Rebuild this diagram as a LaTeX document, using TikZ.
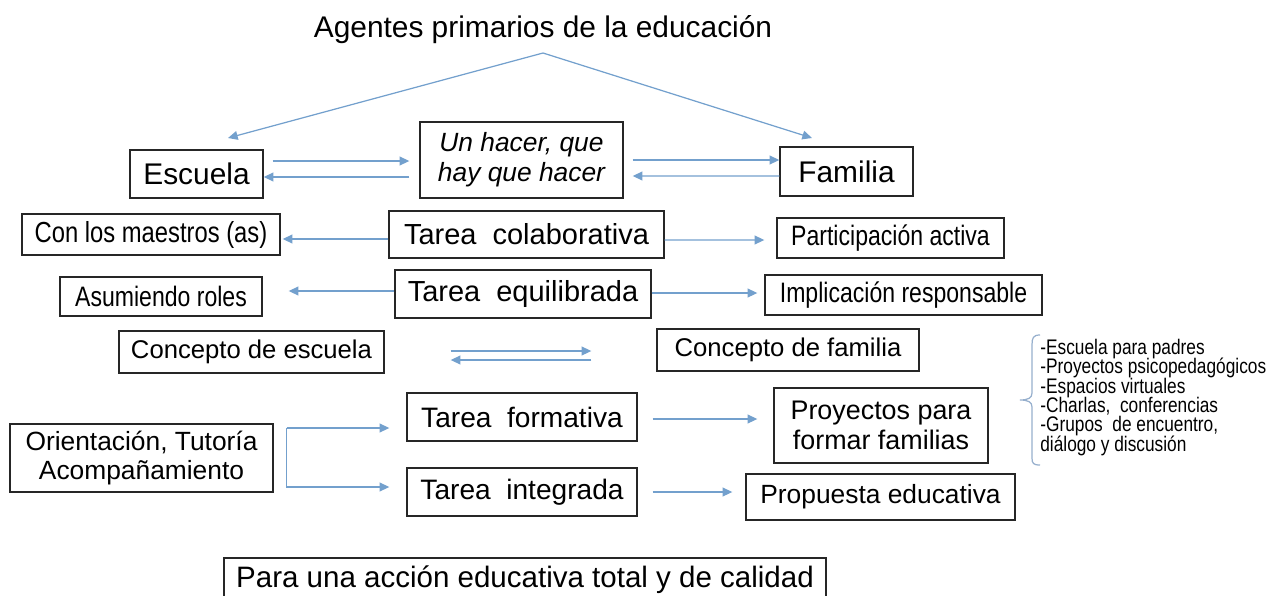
\documentclass[tikz,border=0pt]{standalone}
\usepackage{fontspec}
\setmainfont{Liberation Sans}
\newfontfamily\estrecha{Liberation Sans}[FakeStretch=0.82]
\usetikzlibrary{arrows.meta}
\definecolor{azulflecha}{RGB}{115,160,205}
\definecolor{azulllave}{RGB}{150,175,205}
\newcommand{\tamletra}[2]{\fontsize{#1}{#2}\selectfont}
\tikzset{
  caja/.style 2 args={draw=black!85, line width=0.8pt, minimum width=#1cm,
    minimum height=#2cm, inner sep=0pt, align=center},
  flecha/.style={draw=azulflecha, line width=0.7pt, -{Triangle[length=5.5pt,width=5pt]}},
}
\begin{document}
\begin{tikzpicture}[x=0.02cm,y=-0.02cm]
    \useasboundingbox (0,0) rectangle (1270,595);
    \clip (0,0) rectangle (1270,595);

    \node[font=\tamletra{17}{20}] (titulo) at (543,30) {Agentes primarios de la educación};
    \coordinate (cima) at (543,53);
    \coordinate (llegaE) at (228,138);
    \coordinate (llegaF) at (812,138);

    \node[caja={2.66}{0.96}, font=\tamletra{17}{20}] (escuela) at (196.5,174) {Escuela};
    \node[caja={4.06}{1.52}, font=\itshape\tamletra{15}{17}] (hacer) at (521.5,160) {Un hacer, que\\hay que hacer};
    \node[caja={2.66}{0.98}, font=\tamletra{17}{20}] (familia) at (846.5,171.5) {Familia};

    \node[caja={5.16}{0.82}, font=\estrecha\tamletra{16.5}{20}] (maestros) at (151,234.5) {Con los maestros (as)};
    \node[caja={5.5}{0.94}, font=\tamletra{16.5}{20}] (colab) at (526.5,234.5) {Tarea\ \ colaborativa};
    \node[caja={4.54}{0.8}, font=\estrecha\tamletra{16}{20}] (particip) at (890.5,238) {Participación activa};

    \node[caja={4.04}{0.78}, font=\estrecha\tamletra{16}{20}] (asumiendo) at (161,296.5) {Asumiendo roles};
    \node[caja={5.12}{0.96}, font=\tamletra{16.5}{20}] (equil) at (523,294) {Tarea\ \ equilibrada};
    \node[caja={5.54}{0.8}, font=\estrecha\tamletra{16}{20}] (implic) at (903.5,295) {Implicación responsable};

    \node[caja={5.3}{0.84}, font=\tamletra{14.6}{18}] (cescuela) at (251.5,352) {Concepto de escuela};
    \node[caja={5.24}{0.84}, font=\tamletra{14.6}{18}] (cfamilia) at (788,350) {Concepto de familia};

    \node[caja={5.26}{1.36}, font=\tamletra{15}{16}] (orient) at (141.5,458) {Orientación, Tutoría\\Acompañamiento};
    \node[caja={4.6}{0.96}, font=\tamletra{16}{19}] (formativa) at (522,417) {Tarea\ \ formativa};
    \node[caja={4.6}{0.96}, font=\tamletra{16}{19}] (integrada) at (522,492) {Tarea\ \ integrada};
    \node[caja={4.28}{1.5}, font=\tamletra{15.3}{17}] (proyectos) at (881,425.5) {Proyectos para\\formar familias};
    \node[caja={5.38}{0.92}, font=\tamletra{15}{18}] (propuesta) at (880.5,497) {Propuesta educativa};

    \node[caja={12.04}{0.88}, font=\tamletra{16.8}{20}] (calidad) at (525,580) {Para una acción educativa total y de calidad};

    \node[anchor=north west, align=left, inner sep=0pt, font={\estrecha\tamletra{12}{11}\lineskiplimit=-6pt}] (lista) at (1040,339)
      {-Escuela para padres\\-Proyectos psicopedagógicos\\-Espacios virtuales\\-Charlas,\ \ conferencias\\-Grupos\ \ de encuentro,\\diálogo y discusión};
    \draw[azulllave, line width=0.7pt] (1040,335) .. controls (1033,335) and (1032,338) .. (1032,345)
      -- (1032,393) .. controls (1032,398) and (1028,400) .. (1020,400)
      .. controls (1028,400) and (1032,402) .. (1032,407)
      -- (1032,458) .. controls (1032,463) and (1033,465) .. (1040,465);

    % flechas de arriba
    \draw[flecha] (cima) -- (llegaE);
    \draw[flecha] (cima) -- (llegaF);
    \draw[flecha] ([shift={(9,-13)}]escuela.east) -- ([shift={(-10,1)}]hacer.west);
    \draw[flecha] ([shift={(-10,17)}]hacer.west) -- ([shift={(0,3)}]escuela.east);
    \draw[flecha] ([shift={(9,0)}]hacer.east) -- ([shift={(0,-11.5)}]familia.west);
    \draw[flecha] ([shift={(0,4.5)}]familia.west) -- ([shift={(9,16)}]hacer.east);

    % tareas
    \draw[flecha] ([shift={(0,4.5)}]colab.west) -- ([shift={(2,4.5)}]maestros.east);
    \draw[flecha] ([shift={(0,5.5)}]colab.east) -- ([shift={(-12,2)}]particip.west);
    \draw[flecha] ([shift={(0,-3)}]equil.west) -- ([shift={(26,-5.5)}]asumiendo.east);
    \draw[flecha] ([shift={(0,-1)}]equil.east) -- ([shift={(-7,-2)}]implic.west);
    \draw[flecha] ([shift={(66,-1)}]cescuela.east) -- ([shift={(-65,1)}]cfamilia.west);
    \draw[flecha] ([shift={(-65,10)}]cfamilia.west) -- ([shift={(66,8)}]cescuela.east);

    \coordinate (bifurca) at ([shift={(13,-30)}]orient.east);
    \draw[flecha] (bifurca) -- ([shift={(-17,11)}]formativa.west);
    \draw[flecha] (bifurca) |- ([shift={(-17,-5)}]integrada.west);
    \draw[flecha] ([shift={(15,2)}]formativa.east) -- ([shift={(-16,-6.5)}]proyectos.west);
    \draw[flecha] ([shift={(15,0)}]integrada.east) -- ([shift={(-13,-5)}]propuesta.west);
\end{tikzpicture}
\end{document}
